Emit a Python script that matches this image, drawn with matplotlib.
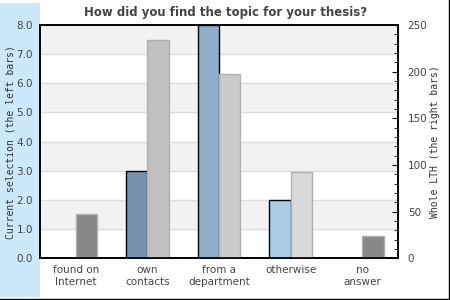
import numpy as np
import matplotlib
matplotlib.use('Agg')
import matplotlib.pyplot as plt
from matplotlib.patches import Rectangle
from matplotlib.lines import Line2D

# data
categories = ['found on\nInternet', 'own\ncontacts', 'from a\ndepartment', 'otherwise', 'no\nanswer']
current = [0, 3, 8, 2, 0]
whole_lth = [47, 234, 198, 92, 24]
left_colors = ['#7593b0', '#7593b0', '#8fb0cb', '#aacce6', '#7593b0']
right_colors = ['#888888', '#c0c0c0', '#cacaca', '#d9d9d9', '#888888']

fig = plt.figure(figsize=(4.5, 3), dpi=100)
fig.patch.set_facecolor('white')

# light blue band on the left + frame lines right/bottom
fig.patches.append(Rectangle((0, 3 / 300), 40 / 450, 294 / 300, transform=fig.transFigure,
                             facecolor='#cce8fa', edgecolor='none', zorder=-1))
fig.lines.append(Line2D([448.5 / 450, 448.5 / 450], [1.5 / 300, 1], transform=fig.transFigure,
                        color='black', lw=1))
fig.lines.append(Line2D([0, 448.5 / 450], [1.5 / 300, 1.5 / 300], transform=fig.transFigure,
                        color='black', lw=1))

ax = fig.add_axes([40 / 450, 41.7 / 300, 358 / 450, 233.3 / 300])
ax.set_xlim(-0.5, len(categories) - 0.5)
ax.set_ylim(0, 8)

# alternating bands and grid lines
for y in range(0, 8):
    if y % 2 == 1:
        ax.axhspan(y, y + 1, color='#f2f2f2', zorder=0, lw=0)
    if y > 0:
        ax.axhline(y, color='#dddddd', lw=1, zorder=0.5)

x = np.arange(len(categories))
w = 0.3
for i in range(len(categories)):
    if current[i] > 0:
        ax.bar(x[i] - w / 2, current[i], width=w, color=left_colors[i],
               edgecolor='black', lw=1, zorder=3)

ax.set_yticks(np.arange(0, 9, 1))
ax.set_yticklabels(['%.1f' % v for v in np.arange(0, 9, 1)])
ax.tick_params(axis='y', length=0, pad=5, labelsize=7.5, labelcolor='#444444')
ax.set_xticks(x)
ax.set_xticklabels(categories)
ax.tick_params(axis='x', length=0, pad=5, labelsize=7.5, labelcolor='#444444')
ax.set_ylabel('Current selection (the left bars)', family='DejaVu Sans Mono',
              fontsize=7, color='#333333', labelpad=1)
for s in ax.spines.values():
    s.set_linewidth(1.2)

ax2 = ax.twinx()
ax2.set_ylim(0, 250)
ax2.bar(x + w / 2, whole_lth, width=w, color=right_colors, edgecolor='#b0b0b0', lw=1, zorder=2)
ax2.set_yticks(np.arange(0, 251, 50))
ax2.set_yticks(np.arange(0, 251, 10), minor=True)
ax2.tick_params(axis='y', which='major', direction='in', length=4, pad=7,
                labelsize=7.5, labelcolor='#444444')
ax2.tick_params(axis='y', which='minor', direction='in', length=3)
ax2.set_ylabel('Whole LTH (the right bars)', family='DejaVu Sans Mono',
               fontsize=7, color='#333333', labelpad=2)
for s in ax2.spines.values():
    s.set_linewidth(1.2)

fig.text(0.502, 0.958, 'How did you find the topic for your thesis?', ha='center', va='center',
         fontsize=8.5, fontweight='bold', color='#444444')

plt.savefig('out.png', dpi=100)
